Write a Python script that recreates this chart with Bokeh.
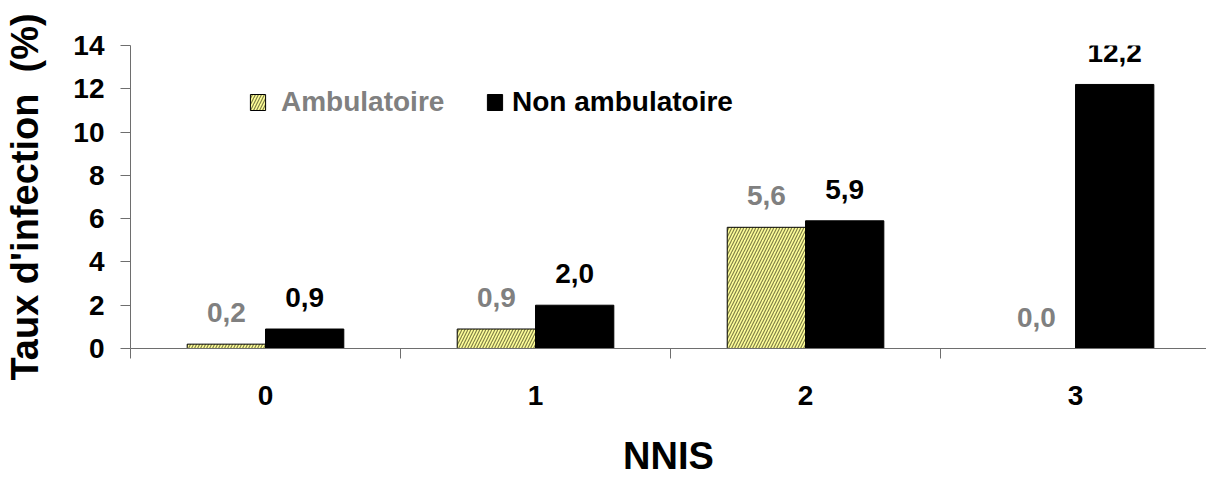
from bokeh.plotting import figure
from bokeh.models import Range1d, FixedTicker, ColumnDataSource, LabelSet, Legend, LegendItem
from bokeh.core.properties import value
from bokeh.embed import file_html
from bokeh.resources import INLINE

categories = ["0", "1", "2", "3"]
ambulatoire = [0.2, 0.9, 5.6, 0.0]
non_ambulatoire = [0.9, 2.0, 5.9, 12.2]
y_ticks = [0, 2, 4, 6, 8, 10, 12, 14]
series_names = ["Ambulatoire", "Non ambulatoire"]
x_title = "NNIS"
y_title = "Taux d'infection\u00a0 (%)"

FONT = "Liberation Sans"
xs = list(range(len(categories)))
bw = 0.29

def fmt(v):
    return f"{v:.1f}".replace(".", ",")

src_a = ColumnDataSource(dict(x=[x - bw / 2 for x in xs], top=ambulatoire,
                              label=[fmt(v) for v in ambulatoire]))
src_n = ColumnDataSource(dict(x=[x + bw / 2 for x in xs], top=non_ambulatoire,
                              label=[fmt(v) for v in non_ambulatoire]))

p = figure(width=1206, height=479, output_backend="svg", toolbar_location=None,
           x_range=Range1d(-0.5, 3.485), y_range=Range1d(0, 14),
           min_border_left=130, min_border_right=0, min_border_top=45,
           min_border_bottom=131)
p.outline_line_color = None
p.grid.visible = False
p.background_fill_color = "white"
p.border_fill_color = "white"

r_a = p.vbar(x="x", top="top", width=bw, bottom=0, source=src_a,
             fill_color="#FFFF99", line_color="black", line_width=1,
             hatch_pattern="/", hatch_color="#6b6b3a", hatch_scale=6,
             hatch_weight=1.2, hatch_alpha=0.85)
r_n = p.vbar(x="x", top="top", width=bw, bottom=0, source=src_n,
             fill_color="black", line_color="black", line_width=1)

lab_a = LabelSet(x="x", y="top", text="label", source=src_a, y_offset=22,
                 text_align="center", text_baseline="alphabetic",
                 text_font=value(FONT), text_font_size=value("28px"),
                 text_font_style=value("bold"), text_color=value("#808080"))
lab_n = LabelSet(x="x", y="top", text="label", source=src_n, y_offset=22,
                 text_align="center", text_baseline="alphabetic",
                 text_font=value(FONT), text_font_size=value("28px"),
                 text_font_style=value("bold"), text_color=value("black"))
p.add_layout(lab_a)
p.add_layout(lab_n)

axis_color = "#6e6e6e"
# x axis
p.xaxis.ticker = FixedTicker(ticks=xs, minor_ticks=[-0.5, 0.5, 1.5, 2.5])
p.xaxis.major_label_overrides = {i: c for i, c in enumerate(categories)}
p.xaxis.major_tick_out = 0
p.xaxis.major_tick_in = 0
p.xaxis.minor_tick_out = 10
p.xaxis.minor_tick_in = 0
p.xaxis.major_label_standoff = 27
p.xaxis.axis_label = x_title
p.xaxis.axis_label_standoff = 27

# y axis
p.yaxis.ticker = FixedTicker(ticks=y_ticks)
p.yaxis.major_tick_out = 10
p.yaxis.major_tick_in = 0
p.yaxis.minor_tick_out = 0
p.yaxis.minor_tick_in = 0
p.yaxis.major_label_standoff = 16
p.yaxis.axis_label = y_title
p.yaxis.axis_label_standoff = 24

for ax in (p.xaxis, p.yaxis):
    ax.axis_line_color = axis_color
    ax.major_tick_line_color = axis_color
    ax.minor_tick_line_color = axis_color
    ax.major_label_text_font = FONT
    ax.major_label_text_font_size = "28px"
    ax.major_label_text_font_style = "bold"
    ax.major_label_text_color = "black"
    ax.axis_label_text_font = FONT
    ax.axis_label_text_font_size = "38px"
    ax.axis_label_text_font_style = "bold"
    ax.axis_label_text_color = "black"

def make_legend(item, loc, color, standoff):
    lg = Legend(items=[item], location=loc, orientation="horizontal",
                padding=0, margin=0, spacing=0,
                border_line_color=None, background_fill_alpha=0,
                label_text_font=FONT, label_text_font_size="28px",
                label_text_font_style="bold", label_text_color=color,
                glyph_width=19, glyph_height=20, label_standoff=standoff)
    return lg

p.add_layout(make_legend(LegendItem(label=series_names[0], renderers=[r_a]),
                         (118, 230), "#808080", 14), "center")
p.add_layout(make_legend(LegendItem(label=series_names[1], renderers=[r_n]),
                         (355, 230), "black", 8), "center")

open("out.html", "w").write(file_html(p, INLINE))
